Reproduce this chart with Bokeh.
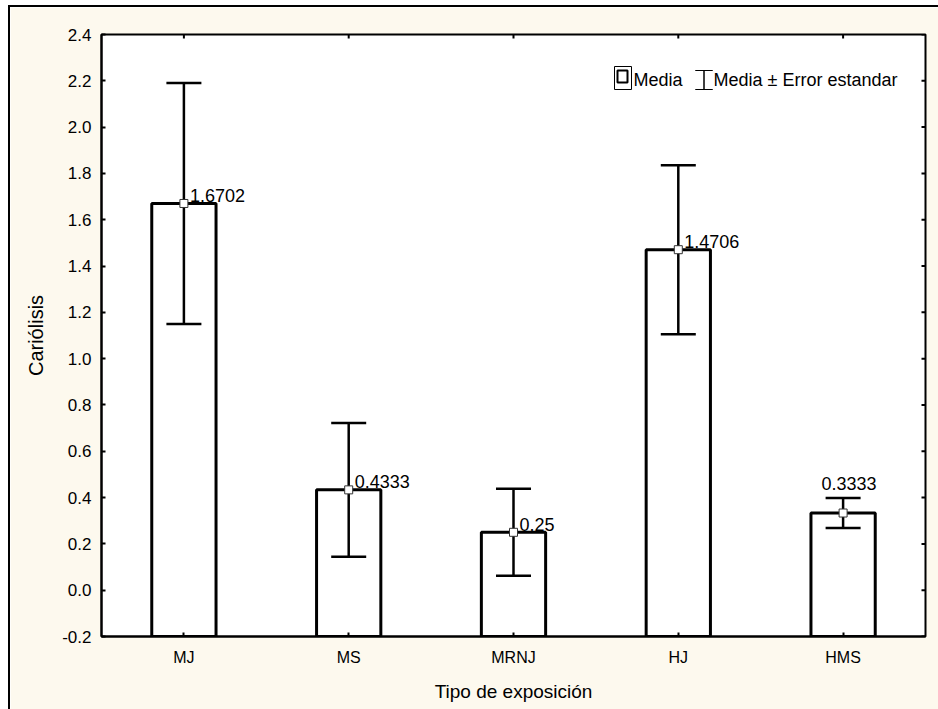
import math
from bokeh.plotting import figure
from bokeh.models import (FactorRange, Range1d, FixedTicker, PrintfTickFormatter,
                          ColumnDataSource, Label, BoxAnnotation, PolyAnnotation)
from bokeh.embed import file_html
from bokeh.resources import INLINE
from bokeh.core.properties import value

# ---- data ----
categories = ["MJ", "MS", "MRNJ", "HJ", "HMS"]
means = [1.6702, 0.4333, 0.25, 1.4706, 0.3333]
std_errors = [0.52, 0.289, 0.188, 0.365, 0.065]
y_ticks = [-0.2, 0.0, 0.2, 0.4, 0.6, 0.8, 1.0, 1.2, 1.4, 1.6, 1.8, 2.0, 2.2, 2.4]
x_title = "Tipo de exposición"
y_title = "Cariólisis"
legend_labels = ["Media", "Media ± Error estandar"]

Y0, Y1 = -0.2, 2.4
FONT = "Liberation Sans"
CREAM = "#FDF9EE"

lower = [m - s for m, s in zip(means, std_errors)]
upper = [m + s for m, s in zip(means, std_errors)]
labels = [f"{m:.4f}".rstrip("0") for m in means]

src = ColumnDataSource(dict(cat=categories, mean=means, lower=lower,
                            upper=upper, label=labels))

p = figure(x_range=FactorRange(*categories), y_range=Range1d(Y0, Y1),
           frame_width=824, frame_height=602,
           min_border_left=91, min_border_right=13,
           min_border_top=27, min_border_bottom=73,
           output_backend="svg", toolbar_location=None,
           background_fill_color="white", border_fill_color=CREAM,
           outline_line_color="black", outline_line_width=2)
p.margin = (5, 0, 0, 8)
p.styles = {"border-left": "2px solid black", "border-top": "2px solid black"}

p.xgrid.visible = False
p.ygrid.visible = False

# left axis
ya = p.yaxis[0]
ya.ticker = FixedTicker(ticks=y_ticks)
ya.formatter = PrintfTickFormatter(format="%.1f")
ya.major_tick_in = 4
ya.major_tick_out = 0
ya.minor_tick_line_color = None
ya.axis_line_width = 2
ya.major_tick_line_width = 2
ya.major_label_standoff = 10
ya.major_label_text_font = FONT
ya.major_label_text_font_size = "17px"
ya.major_label_text_color = "black"
ya.axis_label = y_title
ya.axis_label_text_font = FONT
ya.axis_label_text_font_style = "normal"
ya.axis_label_text_font_size = "20px"
ya.axis_label_text_color = "black"
ya.axis_label_standoff = 12

# bottom axis
xa = p.xaxis[0]
xa.major_tick_in = 4
xa.major_tick_out = 0
xa.axis_line_width = 2
xa.major_tick_line_width = 2
xa.major_label_standoff = 12
xa.major_label_text_font = FONT
xa.major_label_text_font_size = "16px"
xa.major_label_text_color = "black"
xa.axis_label = x_title
xa.axis_label_text_font = FONT
xa.axis_label_text_font_style = "normal"
xa.axis_label_text_font_size = "19px"
xa.axis_label_text_color = "black"
xa.axis_label_standoff = 12

# mirror ticks on the right and top edges (half of each dash is clipped by the frame)
n = len(categories)
p.scatter(x=[n] * len(y_ticks), y=y_ticks, marker="dash", size=8,
          line_color="black", line_width=2)
p.scatter(x=categories, y=[Y1] * n, marker="dash", angle=math.pi / 2, size=8,
          line_color="black", line_width=2)

# bars
p.vbar(x="cat", top="mean", bottom=Y0, width=0.39, source=src,
       fill_color="white", line_color="black", line_width=3)
# error bars
p.segment(x0="cat", y0="lower", x1="cat", y1="upper", source=src,
          line_color="black", line_width=2.5)
p.scatter(x="cat", y="upper", marker="dash", size=35, source=src,
          line_color="black", line_width=2.5)
p.scatter(x="cat", y="lower", marker="dash", size=35, source=src,
          line_color="black", line_width=2.5)
# mean markers
p.scatter(x="cat", y="mean", marker="square", size=8, source=src,
          fill_color="white", line_color="#333333", line_width=1)

# value labels: beside the mean, or above the cap when the error bar is short
idx_side = [i for i in range(n) if std_errors[i] > 0.1]
idx_top = [i for i in range(n) if std_errors[i] <= 0.1]
side = ColumnDataSource(dict(cat=[categories[i] for i in idx_side],
                             y=[means[i] for i in idx_side],
                             label=[labels[i] for i in idx_side]))
top = ColumnDataSource(dict(cat=[categories[i] for i in idx_top],
                            y=[upper[i] for i in idx_top],
                            label=[labels[i] for i in idx_top]))
p.text(x="cat", y="y", text="label", source=side, x_offset=6, y_offset=-8,
       text_align="left", text_baseline="middle",
       text_font=value(FONT), text_font_size="18px", text_color="black")
p.text(x="cat", y="y", text="label", source=top, x_offset=6, y_offset=-14,
       text_align="center", text_baseline="middle",
       text_font=value(FONT), text_font_size="18px", text_color="black")

# legend (decoration), positioned in pixels of the frame
def dx(px):
    return (px - 101) / 824 * n

def dy(py):
    return Y1 - (py - 34) / 602 * (Y1 - Y0)

p.add_layout(BoxAnnotation(left=dx(614), right=dx(631), top=dy(66), bottom=dy(89),
                           fill_color=None, line_color="black", line_width=1,
                           line_alpha=1))
p.add_layout(BoxAnnotation(left=dx(617), right=dx(627), top=dy(70), bottom=dy(82),
                           fill_color=None, line_color="black", line_width=2,
                           line_alpha=1))
xm = dx(703.5)
p.add_layout(PolyAnnotation(xs=[dx(695), dx(712), xm, xm, dx(695), dx(712), xm, xm],
                            ys=[dy(70), dy(70), dy(70), dy(89), dy(89), dy(89), dy(89), dy(70)],
                            fill_color=None, line_color="black", line_width=1,
                            line_alpha=1))
p.add_layout(Label(x=dx(633), y=dy(79), text=legend_labels[0], text_baseline="middle",
                   text_font=FONT, text_font_size="18px", text_color="black"))
p.add_layout(Label(x=dx(713), y=dy(79), text=legend_labels[1], text_baseline="middle",
                   text_font=FONT, text_font_size="18px", text_color="black"))

open("out.html", "w").write(file_html(p, INLINE))
